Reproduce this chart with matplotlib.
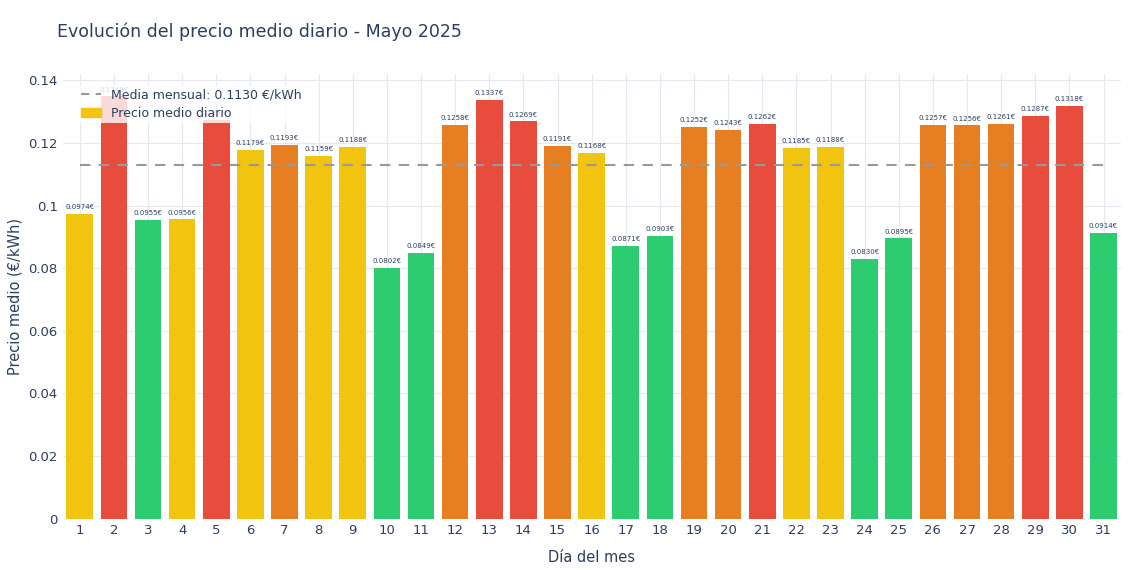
import matplotlib
matplotlib.use("Agg")
import matplotlib.pyplot as plt
from matplotlib.lines import Line2D
from matplotlib.patches import Patch

days = list(range(1, 32))
prices = [0.0974, 0.1349, 0.0955, 0.0956, 0.1273, 0.1179, 0.1193, 0.1159, 0.1188, 0.0802,
          0.0849, 0.1258, 0.1337, 0.1269, 0.1191, 0.1168, 0.0871, 0.0903, 0.1252, 0.1243,
          0.1262, 0.1185, 0.1188, 0.0830, 0.0895, 0.1257, 0.1256, 0.1261, 0.1287, 0.1318, 0.0914]
categories = ["Y", "R", "G", "Y", "R", "Y", "O", "Y", "Y", "G",
              "G", "O", "R", "R", "O", "Y", "G", "G", "O", "O",
              "R", "Y", "Y", "G", "G", "O", "O", "O", "R", "R", "G"]
monthly_mean = 0.1130
cmap = {"Y": "#f1c40f", "R": "#e74c3c", "G": "#2ecc71", "O": "#e67e22"}
txt = "#2a3f5f"

fig = plt.figure(figsize=(11.4, 5.7), dpi=100)
ax = fig.add_axes([0.055, 0.09, 0.928, 0.78])
ax.bar(days, prices, width=0.78, color=[cmap[c] for c in categories], zorder=2)
for d, p in zip(days, prices):
    ax.text(d, p + 0.0012, f"{p:.4f}€", ha="center", va="bottom", fontsize=5, color=txt, zorder=3)
ax.plot([1, 31], [monthly_mean, monthly_mean], ls=(0, (5, 4)), color="#999999", lw=1.5, zorder=4)

ax.set_xlim(0.5, 31.5)
ax.set_ylim(0, 0.142)
ax.set_xticks(days)
ax.set_yticks([0, 0.02, 0.04, 0.06, 0.08, 0.1, 0.12, 0.14])
ax.set_yticklabels(["0", "0.02", "0.04", "0.06", "0.08", "0.1", "0.12", "0.14"])
ax.grid(True, color="#e5e8ef", lw=0.8, zorder=0)
ax.set_axisbelow(True)
for s in ax.spines.values():
    s.set_visible(False)
ax.tick_params(length=0, colors=txt, labelsize=9.5)
ax.set_xlabel("Día del mes", color=txt, fontsize=10.5, labelpad=10)
ax.set_ylabel("Precio medio (€/kWh)", color=txt, fontsize=10.5)
fig.text(0.05, 0.935, "Evolución del precio medio diario - Mayo 2025", fontsize=12.5, color=txt)

handles = [Line2D([0], [0], ls=(0, (4, 3)), color="#999999", lw=1.5),
           Patch(color=cmap["Y"])]
leg = ax.legend(handles, ["Media mensual: 0.1130 €/kWh", "Precio medio diario"],
                loc="upper left", bbox_to_anchor=(0.008, 0.99), frameon=True, fontsize=9,
                labelcolor=txt, handlelength=1.6, borderpad=0.3, labelspacing=0.4)
leg.get_frame().set_facecolor((1, 1, 1, 0.8))
leg.get_frame().set_edgecolor("none")
leg.set_zorder(5)
fig.savefig("out.png")
